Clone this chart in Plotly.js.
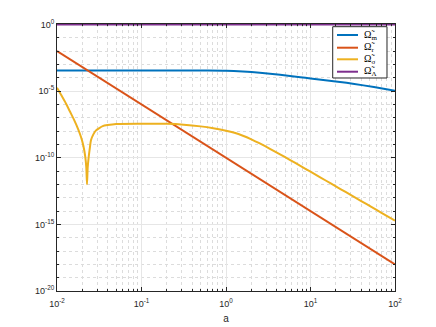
<!DOCTYPE html>
<html>
<head>
<meta charset="utf-8">
<script src="https://cdn.plot.ly/plotly-3.0.1.min.js"></script>
<style>html,body{margin:0;padding:0;background:#fff;}#chart{width:436px;height:327px;}</style>
</head>
<body>
<div id="chart"></div>
<script>
// Scale factor a and density parameters
const aM = [0.01, 0.1, 0.3162, 0.5623, 1, 1.585, 2.512, 4.365, 7.586, 10, 15.85, 22.39, 31.62, 56.23, 100];
const omegaM = [3.55e-4, 3.55e-4, 3.55e-4, 3.51e-4, 3.39e-4, 2.95e-4, 2.34e-4, 1.66e-4, 1.10e-4, 8.91e-5, 6.31e-5, 4.79e-5, 3.55e-5, 2.0e-5, 1.07e-5];

const aR = [0.01, 0.1, 1, 10, 100];
const omegaR = [1e-2, 1e-6, 1e-10, 1e-14, 1e-18];

const aS = [0.01, 0.01122, 0.0128, 0.01413, 0.01603, 0.01778, 0.01923, 0.02042, 0.02163, 0.02223, 0.02265,
            0.02307, 0.02371, 0.02455, 0.02523, 0.02692, 0.02897, 0.03162, 0.03475, 0.03981, 0.05012,
            0.1, 0.1995, 0.3162, 0.5012, 0.7079, 1, 1.259, 1.585, 1.995, 2.512,
            3.311, 4.365, 5.754, 7.586, 10, 13.18, 17.38, 22.91, 30.2, 39.81, 52.48, 69.18, 100];
const omegaS = [1.78e-5, 5.01e-6, 1.12e-6, 3.16e-7, 6.31e-8, 1.41e-8, 3.55e-9, 8.91e-10, 1.12e-10, 1.78e-11, 1e-12,
                1.78e-11, 1.12e-10, 6.31e-10, 2.0e-9, 5.62e-9, 1.12e-8, 1.66e-8, 2.34e-8, 2.82e-8, 3.39e-8,
                3.55e-8, 3.47e-8, 3.02e-8, 2.24e-8, 1.62e-8, 1.07e-8, 7.41e-9, 4.47e-9, 2.4e-9, 1.17e-9,
                4.68e-10, 1.78e-10, 6.61e-11, 2.45e-11, 8.91e-12, 3.24e-12, 1.17e-12, 4.27e-13, 1.55e-13, 5.62e-14, 2.04e-14, 7.41e-15, 1.91e-15];

const aL = [0.01, 1, 100];
const omegaL = [1, 1, 1];

const names = ['Ω̃<sub>m</sub>', 'Ω̃<sub>r</sub>', 'Ω̃<sub>σ</sub>', 'Ω̃<sub>Λ</sub>'];
const colors = ['#0072BD', '#D95319', '#EDB120', '#7E2F8E'];

const xTickVals = [0.01, 0.1, 1, 10, 100];
const xTickText = ['10<sup>-2</sup>', '10<sup>-1</sup>', '10<sup>0</sup>', '10<sup>1</sup>', '10<sup>2</sup>'];
const yTickVals = [1e-20, 1e-15, 1e-10, 1e-5, 1];
const yTickText = ['10<sup>-20</sup>', '10<sup>-15</sup>', '10<sup>-10</sup>', '10<sup>-5</sup>', '10<sup>0</sup>'];

const xMinor = [];
for (let e = -2; e < 2; e++) for (let d = 2; d <= 9; d++) xMinor.push(d * Math.pow(10, e));
const yMinor = [];
for (let e = -19; e <= -1; e++) if (e % 5 !== 0) yMinor.push(Math.pow(10, e));

// split the sigma curve at its cusp so each side can be smoothed separately
let iMin = 0;
omegaS.forEach((v, i) => { if (v < omegaS[iMin]) iMin = i; });

const lineStyle = (i, shape, smooth) => ({color: colors[i], width: 2, shape: shape, smoothing: smooth});
const traces = [
  {x: aM, y: omegaM, type: 'scatter', mode: 'lines', line: lineStyle(0, 'spline', 0.6)},
  {x: aR, y: omegaR, type: 'scatter', mode: 'lines', line: lineStyle(1, 'linear')},
  {x: aS.slice(0, iMin + 1), y: omegaS.slice(0, iMin + 1), type: 'scatter', mode: 'lines', line: lineStyle(2, 'spline', 0.7)},
  {x: aS.slice(iMin), y: omegaS.slice(iMin), type: 'scatter', mode: 'lines', line: lineStyle(2, 'spline', 0.7)},
  {x: aL, y: omegaL, type: 'scatter', mode: 'lines', line: lineStyle(3, 'linear')}
];

const fontSans = 'Liberation Sans, Arial, sans-serif';
const axCommon = {
  type: 'log', showline: true, linecolor: '#262626', linewidth: 1, mirror: 'ticks',
  ticks: 'inside', ticklen: 4, tickcolor: '#262626', tickwidth: 1,
  showgrid: true, gridcolor: '#e6e6e6', gridwidth: 1, zeroline: false,
  tickfont: {family: fontSans, size: 9, color: '#262626'},
  tickmode: 'array'
};

// hand-placed legend (paper coordinates)
const legX0 = 0.8157, legX1 = 0.9763, legY0 = 0.7978, legY1 = 0.9899;
const legLineX0 = 0.8284, legLineX1 = 0.8905, legTextX = 0.9009;
const legRows = [0.9588, 0.9112, 0.8678, 0.8213];

const shapes = [{
  type: 'rect', xref: 'paper', yref: 'paper', x0: legX0, x1: legX1, y0: legY0, y1: legY1,
  fillcolor: '#ffffff', line: {color: '#262626', width: 1}, layer: 'above'
}];
const annotations = [];
legRows.forEach((y, i) => {
  shapes.push({type: 'line', xref: 'paper', yref: 'paper', x0: legLineX0, x1: legLineX1, y0: y, y1: y,
               line: {color: colors[i], width: 2}, layer: 'above'});
  annotations.push({xref: 'paper', yref: 'paper', x: legTextX, y: y, xanchor: 'left', yanchor: 'middle',
                    text: names[i], showarrow: false,
                    font: {family: 'Liberation Serif, DejaVu Serif, serif', size: 10, color: '#000'}});
});

const layout = {
  width: 436, height: 327,
  margin: {l: 57, r: 41, t: 24, b: 36},
  paper_bgcolor: '#ffffff', plot_bgcolor: '#ffffff',
  showlegend: false,
  xaxis: Object.assign({}, axCommon, {
    range: [-2, 2], tickvals: xTickVals, ticktext: xTickText, ticklabelstandoff: 4,
    minor: {tickmode: 'array', tickvals: xMinor, ticks: 'inside', ticklen: 2, tickcolor: '#262626',
            showgrid: true, gridcolor: '#dcdcdc', griddash: 'dot', gridwidth: 1},
    title: {text: 'a', font: {family: fontSans, size: 10, color: '#262626'}, standoff: 7}
  }),
  yaxis: Object.assign({}, axCommon, {
    range: [-20, 0.03], tickvals: yTickVals, ticktext: yTickText,
    minor: {tickmode: 'array', tickvals: yMinor, ticks: 'inside', ticklen: 2, tickcolor: '#262626',
            showgrid: true, gridcolor: '#dcdcdc', griddash: 'dot', gridwidth: 1}
  }),
  shapes: shapes,
  annotations: annotations
};

Plotly.newPlot('chart', traces, layout, {staticPlot: true, displayModeBar: false});
</script>
</body>
</html>
